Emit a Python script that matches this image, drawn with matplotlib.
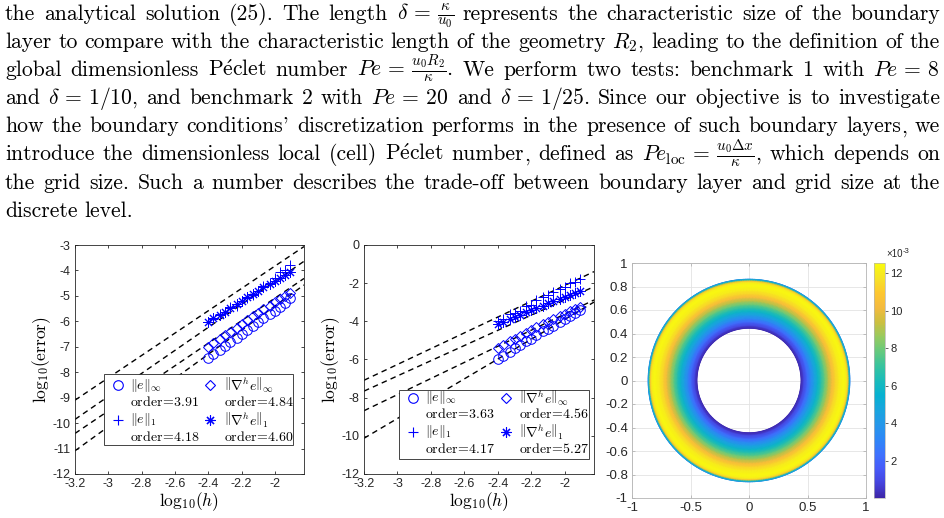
import numpy as np
import matplotlib
matplotlib.use("Agg")
import matplotlib.pyplot as plt
from matplotlib.colors import LinearSegmentedColormap
from matplotlib.ticker import FixedLocator, FuncFormatter
from matplotlib.lines import Line2D
from matplotlib.patches import Rectangle

W, H = 945, 518
plt.rcParams['mathtext.fontset'] = 'cm'
plt.rcParams['axes.unicode_minus'] = False
plt.rcParams['font.family'] = ['Liberation Sans', 'DejaVu Sans']

# ---- paragraph ----
para_lines = [
    r"the analytical solution (25). The length $\delta\,=\,\frac{\kappa}{u_0}$ represents the characteristic size of the boundary",
    r"layer to compare with the characteristic length of the geometry $R_2$, leading to the definition of the",
    r"global dimensionless P$\acute{\mathrm{e}}$clet number $Pe\,=\,\frac{u_0R_2}{\kappa}$. We perform two tests: benchmark 1 with $Pe\,=\,8$",
    r"and $\delta\,=\,1/10$, and benchmark 2 with $Pe\,=\,20$ and $\delta\,=\,1/25$. Since our objective is to investigate",
    r"how the boundary conditions' discretization performs in the presence of such boundary layers, we",
    r"introduce the dimensionless local (cell) P$\acute{\mathrm{e}}$clet number, defined as $Pe_{\mathrm{loc}}\,=\,\frac{u_0\Delta{}x}{\kappa}$, which depends on",
    r"the grid size. Such a number describes the trade-off between boundary layer and grid size at the",
    r"discrete level.",
]

# ---- convergence data (log10 h, log10 error) ----
log_h = [-2.40, -2.37, -2.33, -2.30, -2.27, -2.23, -2.20, -2.17,
         -2.13, -2.10, -2.07, -2.03, -2.00, -1.97, -1.94, -1.91]

b1_einf = [-7.45, -7.30, -7.12, -6.98, -6.82, -6.65, -6.50, -6.35,
           -6.18, -6.04, -5.88, -5.72, -5.58, -5.42, -5.26, -5.10]
b1_e1 = [-6.02, -5.90, -5.70, -5.62, -5.45, -5.38, -5.20, -5.10,
         -4.95, -4.82, -4.60, -4.50, -4.30, -4.05, -3.98, -3.80]
b1_ginf = [-7.00, -6.85, -6.68, -6.55, -6.40, -6.25, -6.10, -5.96,
           -5.80, -5.67, -5.53, -5.38, -5.25, -5.12, -5.00, -4.90]
b1_g1 = [-6.02, -5.88, -5.74, -5.62, -5.48, -5.33, -5.20, -5.06,
         -4.92, -4.80, -4.66, -4.52, -4.42, -4.30, -4.18, -4.06]
b1_fit_slope = [4.39, 4.52, 4.43, 4.74]
b1_fit_icpt = [4.95, 4.61, 3.77, 4.08]
b1_orders = ["3.91", "4.18", "4.84", "4.60"]

b2_einf = [-5.95, -5.80, -5.60, -5.42, -5.25, -5.05, -4.90, -4.72,
           -4.52, -4.38, -4.22, -4.02, -3.88, -3.72, -3.56, -3.42]
b2_e1 = [-3.98, -3.90, -3.62, -3.58, -3.48, -3.20, -3.12, -2.88,
         -2.75, -2.62, -2.48, -2.28, -2.20, -2.00, -1.92, -1.80]
b2_ginf = [-5.38, -5.22, -5.05, -4.90, -4.76, -4.60, -4.45, -4.32,
           -4.15, -4.02, -3.88, -3.72, -3.60, -3.48, -3.35, -3.25]
b2_g1 = [-4.15, -4.02, -3.88, -3.78, -3.66, -3.52, -3.42, -3.30,
         -3.18, -3.06, -2.95, -2.82, -2.72, -2.62, -2.52, -2.42]
b2_fit_slope = [4.14, 3.98, 4.22, 5.19]
b2_fit_icpt = [6.16, 5.08, 4.82, 6.48]
b2_orders = ["3.63", "4.17", "4.56", "5.27"]

norm_labels = [r"$\|e\|_\infty$", r"$\|e\|_1$",
               r"$\left\|\nabla^h e\right\|_\infty$", r"$\left\|\nabla^h e\right\|_1$"]
markers = ['o', '+', 'D', (8, 2, 0)]
msizes = [6.9, 7.8, 5.0, 7.2]

# ---- solution field (radial profile, values x 1e-3) ----
ring_r = [0.445, 0.47, 0.50, 0.53, 0.56, 0.59, 0.62, 0.65, 0.68, 0.71,
          0.74, 0.77, 0.80, 0.82, 0.835, 0.845, 0.852, 0.858, 0.862]
ring_v = [0.1, 1.0, 2.2, 3.4, 4.6, 5.8, 6.9, 8.0, 9.2, 10.4,
          11.4, 12.1, 12.4, 12.4, 12.0, 11.0, 9.0, 6.0, 3.5]

parula_pts = [(0.2422, 0.1504, 0.6603), (0.2725, 0.2672, 0.8691), (0.2781, 0.3556, 0.9777),
              (0.2409, 0.4503, 0.9977), (0.1786, 0.5289, 0.9682), (0.1480, 0.5939, 0.9158),
              (0.0964, 0.6467, 0.8725), (0.0253, 0.6954, 0.8196), (0.1000, 0.7350, 0.7300),
              (0.2185, 0.7661, 0.6192), (0.4000, 0.7900, 0.4900), (0.5925, 0.7916, 0.3713),
              (0.8000, 0.7500, 0.2500), (0.9553, 0.7315, 0.2443), (0.9940, 0.7805, 0.1835),
              (0.9656, 0.8908, 0.1510), (0.9763, 0.9831, 0.0538)]
parula = LinearSegmentedColormap.from_list("parula", parula_pts, N=256)

fig = plt.figure(figsize=(W / 100, H / 100), dpi=100)
renderer = fig.canvas.get_renderer()
serif = ['cmr10', 'DejaVu Serif']


def pieces(w):
    # a plain word ending in a comma: draw the word and the comma as two texts
    if '$' not in w and w.endswith(',') and len(w) > 1:
        return [w[:-1], ',']
    return [w]


def measure(s, size):
    t = fig.text(0, 0, s, fontsize=size, family=serif)
    w = t.get_window_extent(renderer).width
    t.remove()
    return w


def word_width(w, size):
    return sum(measure(p, size) for p in pieces(w))


x0, x1 = 5, 940
# pick the font size so that the widest justified line fits with normal spacing
sp10 = measure("a a", 10) - measure("aa", 10)
natural = []
for line in para_lines[:-1]:
    words = line.split(" ")
    natural.append(sum(word_width(w, 10) for w in words) + sp10 * (len(words) - 1))
fs = 10 * (x1 - x0) / max(natural)

space_w = measure("a a", fs) - measure("aa", fs)
for i, line in enumerate(para_lines):
    words = line.split(" ")
    widths = [word_width(w, fs) for w in words]
    base_y = 19.5 + 28.2 * i
    if i < len(para_lines) - 1:
        gap = (x1 - x0 - sum(widths)) / (len(words) - 1)
    else:
        gap = space_w
    x = x0
    for w, wd in zip(words, widths):
        xp = x
        for p in pieces(w):
            fig.text(xp / W, 1 - base_y / H, p, fontsize=fs, family=serif, va='baseline', ha='left')
            xp += measure(p, fs)
        x += wd + gap


def px_axes(l, t, r, b):
    return fig.add_axes([l / W, 1 - b / H, (r - l) / W, (b - t) / H])


fmt = FuncFormatter(lambda v, p: "%g" % (round(v, 6) + 0.0))
dark = '#262626'


def style(ax, size):
    for s in ax.spines.values():
        s.set_color(dark)
        s.set_linewidth(0.6)
    ax.tick_params(direction='in', length=2.5, width=0.6, color=dark, labelcolor=dark,
                   labelsize=size, top=True, right=True, pad=3)
    ax.xaxis.set_major_formatter(fmt)
    ax.yaxis.set_major_formatter(fmt)


def conv_panel(box, ylim, yticks, series, slopes, icpts, orders, leg_box, leg_rows, leg_cols):
    ax = px_axes(*box)
    xr = [-3.2, -1.825]
    for m, b in zip(slopes, icpts):
        ax.plot(xr, [m * xr[0] + b, m * xr[1] + b], ls=(0, (4, 3)), color='black', lw=1.0)
    for vals, mk, ms in zip(series, markers, msizes):
        ax.plot(log_h, vals, ls='none', marker=mk, ms=ms, mfc='none', mec='blue', mew=0.7)
    ax.set_xlim(xr)
    ax.set_ylim(ylim)
    ax.xaxis.set_major_locator(FixedLocator([-3.2, -3, -2.8, -2.6, -2.4, -2.2, -2]))
    ax.yaxis.set_major_locator(FixedLocator(yticks))
    style(ax, 9)
    ax.set_xlabel(r"$\mathrm{log}_{10}(h)$", fontsize=12.5, labelpad=0)
    ax.set_ylabel(r"$\mathrm{log}_{10}(\mathrm{error})$", fontsize=12.5, labelpad=0)
    # legend box
    l, t, r, b = leg_box
    fig.add_artist(Rectangle((l / W, 1 - b / H), (r - l) / W, (b - t) / H, transform=fig.transFigure,
                             fill=True, fc='white', ec=dark, lw=0.6))
    for k in range(4):
        col = k // 2
        row = (k % 2) * 2
        mx, tx = leg_cols[col]
        fig.add_artist(Line2D([mx / W], [1 - leg_rows[row] / H], ls='none', marker=markers[k],
                              ms=msizes[k], mfc='none', mec='blue', mew=0.8,
                              transform=fig.transFigure))
        fig.text(tx / W, 1 - leg_rows[row] / H, norm_labels[k], fontsize=10, va='center', ha='left')
        fig.text(tx / W, 1 - leg_rows[row + 1] / H, r"$\mathrm{order\!=\!%s}$" % orders[k],
                 fontsize=10, va='center', ha='left')
    return ax


conv_panel((75, 245, 304, 474), (-12, -3), list(range(-12, -2)),
           [b1_einf, b1_e1, b1_ginf, b1_g1], b1_fit_slope, b1_fit_icpt, b1_orders,
           (104, 374, 293, 445), [385, 402, 420, 437], [(118, 130), (210, 224)])
conv_panel((364, 245, 594, 474), (-12, 0), list(range(-12, 1, 2)),
           [b2_einf, b2_e1, b2_ginf, b2_g1], b2_fit_slope, b2_fit_icpt, b2_orders,
           (399, 390, 589, 459), [398, 414, 432, 449], [(413, 425), (506, 519)])

# ---- annulus field ----
ax3 = px_axes(632, 263, 866, 498)
theta = np.linspace(0, 2 * np.pi, 361)
R, T = np.meshgrid(ring_r, theta)
C = np.tile(ring_v, (len(theta), 1))
mesh = ax3.pcolormesh(R * np.cos(T), R * np.sin(T), C, shading='gouraud', cmap=parula,
                      vmin=0.0, vmax=12.55, rasterized=True)
ax3.set_xlim(-1, 1)
ax3.set_ylim(-1, 1)
ax3.set_axisbelow(True)
ax3.grid(True, color='#e3e3e3', lw=0.6)
ax3.xaxis.set_major_locator(FixedLocator([-1, -0.5, 0, 0.5, 1]))
ax3.yaxis.set_major_locator(FixedLocator(np.round(np.arange(-1, 1.01, 0.2), 1)))
style(ax3, 9.5)
for s in ax3.spines.values():
    s.set_color('#b4b4b4')
ax3.tick_params(color='#b4b4b4')

cax = px_axes(874, 263, 885, 498)
cb = fig.colorbar(mesh, cax=cax)
cb.set_ticks([2, 4, 6, 8, 10, 12])
cb.ax.tick_params(direction='out', length=2, width=0.5, labelsize=8, color=dark, labelcolor=dark, pad=2)
cb.outline.set_edgecolor('#b4b4b4')
cb.outline.set_linewidth(0.5)
fig.text(886 / W, 1 - 257 / H, "×10", fontsize=7, color=dark, va='baseline', ha='left')
fig.text(903 / W, 1 - 253 / H, "-3", fontsize=5.5, color=dark, va='baseline', ha='left')

fig.savefig("out.png", dpi=100)
